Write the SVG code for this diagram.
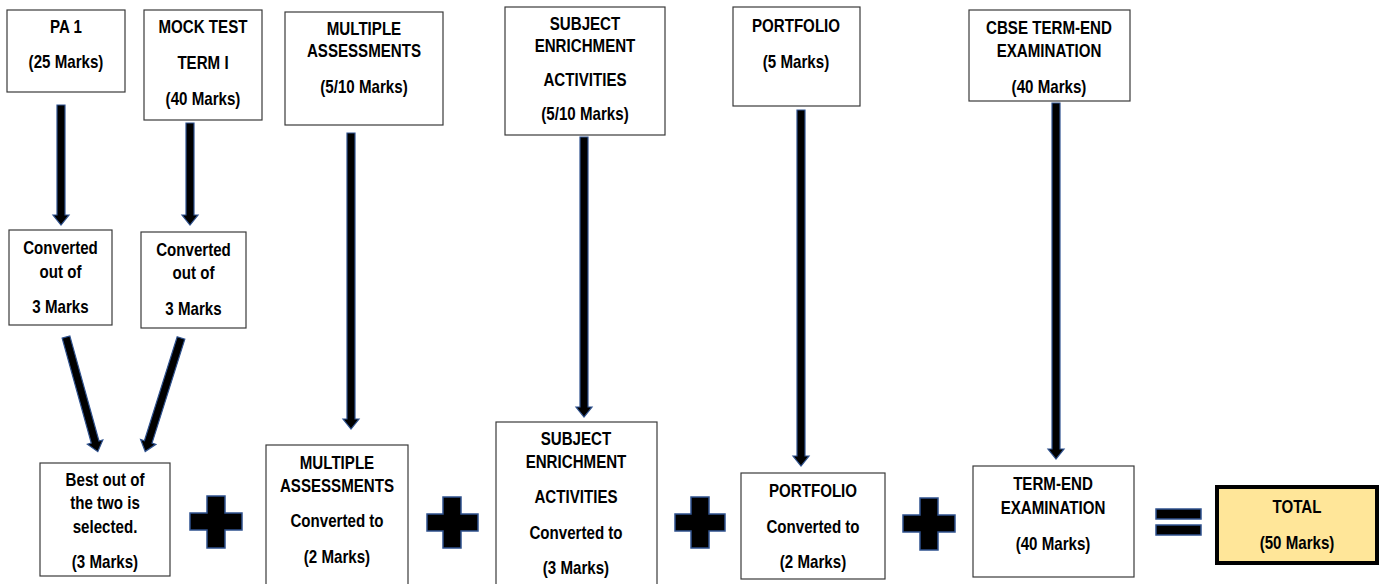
<svg xmlns="http://www.w3.org/2000/svg" width="1382" height="584" viewBox="0 0 1382 584">
<style>
.box{fill:#fff;stroke:#3a3a3a;stroke-width:1.2}
.tot{fill:#FFE699;stroke:#000;stroke-width:4}
text{font-family:"Liberation Sans",Arial,sans-serif;font-weight:bold;font-size:18px;fill:#000;text-anchor:middle;transform-box:fill-box;transform-origin:center;transform:scaleX(0.84)}
.arr{fill:#000;stroke:#2F528F;stroke-width:1.2}
.op{fill:#000;stroke:#2F528F;stroke-width:1.5}
</style>
<rect width="1382" height="584" fill="#fff"/>
<g id="pa1"><rect class="box" x="7" y="10" width="118" height="82"/><text x="66" y="33">PA 1</text><text x="66" y="68">(25 Marks)</text></g>
<g id="mock"><rect class="box" x="144" y="10" width="118" height="110"/><text x="203" y="33">MOCK TEST</text><text x="203" y="69">TERM I</text><text x="203" y="105">(40 Marks)</text></g>
<g id="ma-top"><rect class="box" x="285" y="12" width="158" height="113"/><text x="364" y="35">MULTIPLE</text><text x="364" y="57">ASSESSMENTS</text><text x="364" y="93">(5/10 Marks)</text></g>
<g id="sea-top"><rect class="box" x="505" y="7" width="160" height="128"/><text x="585" y="30">SUBJECT</text><text x="585" y="52">ENRICHMENT</text><text x="585" y="86">ACTIVITIES</text><text x="585" y="120">(5/10 Marks)</text></g>
<g id="pf-top"><rect class="box" x="733" y="7" width="127" height="99"/><text x="796" y="32">PORTFOLIO</text><text x="796" y="68">(5 Marks)</text></g>
<g id="cbse"><rect class="box" x="969" y="10" width="161" height="91"/><text x="1049" y="34">CBSE TERM-END</text><text x="1049" y="57">EXAMINATION</text><text x="1049" y="93">(40 Marks)</text></g>
<g id="conv1"><rect class="box" x="9" y="230" width="103" height="95"/><text x="60.5" y="254">Converted</text><text x="60.5" y="278">out of</text><text x="60.5" y="313">3 Marks</text></g>
<g id="conv2"><rect class="box" x="141" y="232" width="105" height="96"/><text x="193.5" y="256">Converted</text><text x="193.5" y="279">out of</text><text x="193.5" y="315">3 Marks</text></g>
<g id="best"><rect class="box" x="40" y="463" width="130" height="113"/><text x="105" y="486">Best out of</text><text x="105" y="509">the two is</text><text x="105" y="533">selected.</text><text x="105" y="568">(3 Marks)</text></g>
<g id="ma-bot"><rect class="box" x="266" y="445" width="142" height="150"/><text x="337" y="469">MULTIPLE</text><text x="337" y="492">ASSESSMENTS</text><text x="337" y="527">Converted to</text><text x="337" y="563">(2 Marks)</text></g>
<g id="sea-bot"><rect class="box" x="496" y="422" width="161" height="175"/><text x="576" y="445">SUBJECT</text><text x="576" y="468">ENRICHMENT</text><text x="576" y="503">ACTIVITIES</text><text x="576" y="539">Converted to</text><text x="576" y="574">(3 Marks)</text></g>
<g id="pf-bot"><rect class="box" x="741" y="473" width="144" height="106"/><text x="813" y="497">PORTFOLIO</text><text x="813" y="533">Converted to</text><text x="813" y="568">(2 Marks)</text></g>
<g id="te-bot"><rect class="box" x="973" y="466" width="161" height="111"/><text x="1053" y="490">TERM-END</text><text x="1053" y="514">EXAMINATION</text><text x="1053" y="550">(40 Marks)</text></g>
<g id="total"><rect class="tot" x="1217" y="487" width="160" height="76"/><text x="1297" y="513">TOTAL</text><text x="1297" y="549">(50 Marks)</text></g>
<g id="operators">
<path class="op" d="M207,496h18v17h17v17h-17v18h-18v-18h-17v-17h17z"/>
<path class="op" d="M443,497h18v17h17v17h-17v17h-18v-17h-16v-17h16z"/>
<path class="op" d="M691,497h18v17h16v17h-16v17h-18v-17h-16v-17h16z"/>
<path class="op" d="M920,498h18v17h17v17h-17v18h-18v-18h-17v-17h17z"/>
<rect class="op" x="1156" y="509" width="45" height="10"/>
<rect class="op" x="1156" y="525" width="45" height="10"/>
</g>
<g id="connectors">
<polygon class="arr" points="57,105 65,105 65,215 69,215 61,225 53,215 57,215"/>
<polygon class="arr" points="186,123 194,123 194,215 198,215 190,225 182,215 186,215"/>
<polygon class="arr" points="347,133 355,133 355,419 359,419 351,429 343,419 347,419"/>
<polygon class="arr" points="580,137 588,137 588,407 592,407 584,417 576,407 580,407"/>
<polygon class="arr" points="797,110 805,110 805,456 809,456 801,466 793,456 797,456"/>
<polygon class="arr" points="1052,103 1060,103 1060,449 1064,449 1056,459 1048,449 1052,449"/>
<polygon class="arr" transform="rotate(-15.5 66 337)" points="62,337 70,337 70,446 74,446 66,456 58,446 62,446"/>
<polygon class="arr" transform="rotate(17.5 181 338)" points="177,338 185,338 185,447 189,447 181,457 173,447 177,447"/>
</g>
</svg>
